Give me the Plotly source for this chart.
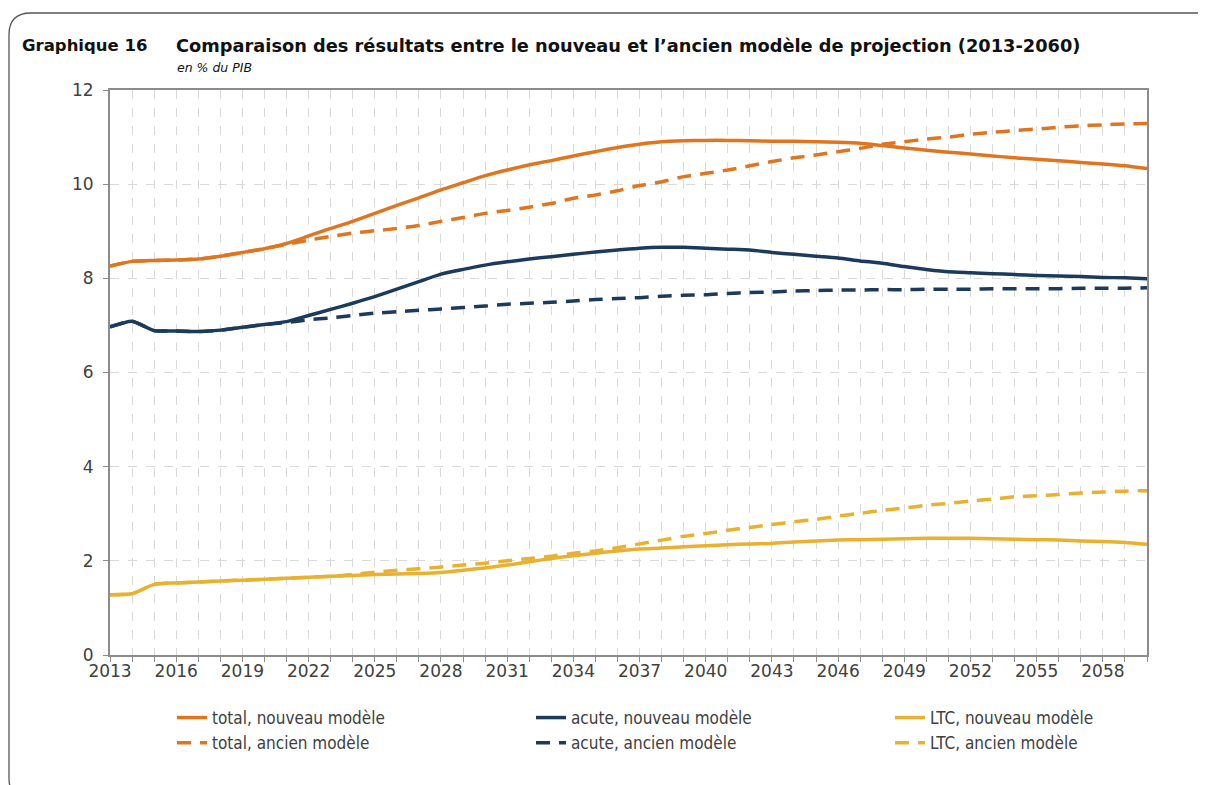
import plotly.graph_objects as go

years = list(range(2013, 2061))

total_new = [8.26, 8.36, 8.38, 8.39, 8.41, 8.47, 8.55, 8.63, 8.74, 8.90,
             9.06, 9.21, 9.38, 9.55, 9.71, 9.88, 10.03, 10.18, 10.30, 10.41,
             10.50, 10.60, 10.69, 10.78, 10.85, 10.90, 10.92, 10.93, 10.93, 10.92,
             10.91, 10.91, 10.90, 10.89, 10.87, 10.82, 10.77, 10.72, 10.68, 10.64,
             10.60, 10.56, 10.53, 10.50, 10.46, 10.43, 10.39, 10.33]
total_old = [8.26, 8.36, 8.38, 8.39, 8.41, 8.47, 8.55, 8.63, 8.72, 8.81,
             8.89, 8.96, 9.01, 9.06, 9.12, 9.21, 9.29, 9.38, 9.44, 9.51,
             9.59, 9.70, 9.77, 9.86, 9.97, 10.05, 10.16, 10.23, 10.30, 10.39,
             10.48, 10.56, 10.62, 10.69, 10.76, 10.85, 10.90, 10.96, 11.00, 11.06,
             11.10, 11.14, 11.17, 11.21, 11.24, 11.26, 11.28, 11.29]
acute_new = [6.97, 7.09, 6.89, 6.88, 6.87, 6.90, 6.96, 7.02, 7.08, 7.21,
             7.34, 7.47, 7.61, 7.77, 7.93, 8.09, 8.19, 8.28, 8.35, 8.41,
             8.46, 8.51, 8.56, 8.60, 8.64, 8.66, 8.66, 8.64, 8.62, 8.60,
             8.55, 8.51, 8.47, 8.43, 8.37, 8.32, 8.25, 8.19, 8.14, 8.12,
             8.10, 8.08, 8.06, 8.05, 8.04, 8.02, 8.01, 7.99]
acute_old = [6.97, 7.09, 6.89, 6.88, 6.87, 6.90, 6.96, 7.02, 7.06, 7.12,
             7.16, 7.21, 7.26, 7.29, 7.32, 7.35, 7.38, 7.41, 7.45, 7.47,
             7.49, 7.52, 7.55, 7.57, 7.59, 7.62, 7.64, 7.65, 7.68, 7.70,
             7.71, 7.73, 7.74, 7.75, 7.75, 7.76, 7.76, 7.77, 7.77, 7.77,
             7.78, 7.78, 7.78, 7.78, 7.79, 7.79, 7.79, 7.80]
ltc_new = [1.28, 1.30, 1.50, 1.53, 1.55, 1.57, 1.59, 1.61, 1.63, 1.65,
           1.67, 1.69, 1.71, 1.72, 1.73, 1.75, 1.80, 1.85, 1.91, 1.98,
           2.05, 2.11, 2.16, 2.21, 2.25, 2.27, 2.30, 2.32, 2.34, 2.36,
           2.37, 2.40, 2.42, 2.44, 2.45, 2.46, 2.47, 2.48, 2.48, 2.48,
           2.47, 2.46, 2.45, 2.44, 2.42, 2.41, 2.39, 2.35]
ltc_old = [1.28, 1.30, 1.50, 1.53, 1.55, 1.57, 1.59, 1.61, 1.63, 1.65,
           1.67, 1.71, 1.76, 1.80, 1.83, 1.87, 1.91, 1.95, 2.00, 2.05,
           2.10, 2.16, 2.21, 2.28, 2.36, 2.44, 2.52, 2.58, 2.65, 2.71,
           2.77, 2.83, 2.88, 2.95, 3.01, 3.07, 3.12, 3.18, 3.22, 3.27,
           3.31, 3.36, 3.38, 3.41, 3.44, 3.46, 3.48, 3.49]

ORANGE = '#E07520'
NAVY = '#1B3A5C'
GOLD = '#E8B130'
FONT = 'DejaVu Sans, sans-serif'
FONT_C = 'DejaVu Sans Condensed, DejaVu Sans, sans-serif'

# the page puts the figure 8px in from the top-left corner, so work in
# page pixels and convert
OFF = 8
W, H = 1206 - OFF, 785 - OFF
L, T = 110 - OFF, 90 - OFF
pw, ph = 1037, 565
R, B = W - L - pw, H - T - ph


def px(x):
    return (x - OFF - L) / pw


def py(y):
    return (T + ph - (y - OFF)) / ph


series = [
    # name, values, colour, dash, legend, rank
    ('total, ancien modèle', total_old, ORANGE, '14px,9px', 'legend', 2),
    ('acute, ancien modèle', acute_old, NAVY, '14px,9px', 'legend2', 2),
    ('LTC, ancien modèle', ltc_old, GOLD, '14px,9px', 'legend3', 2),
    ('total, nouveau modèle', total_new, ORANGE, 'solid', 'legend', 1),
    ('acute, nouveau modèle', acute_new, NAVY, 'solid', 'legend2', 1),
    ('LTC, nouveau modèle', ltc_new, GOLD, 'solid', 'legend3', 1),
]

fig = go.Figure()
for name, vals, col, dash, leg, rank in series:
    fig.add_trace(go.Scatter(
        x=years, y=vals, name=name, mode='lines',
        line=dict(color=col, width=3.5, dash=dash, shape='spline', smoothing=0.5),
        legend=leg, legendrank=rank,
    ))

grid = dict(gridcolor='#D9D9D9', griddash='dash', gridwidth=1)


def legend_at(xpix):
    return dict(orientation='v', x=px(xpix), xanchor='left', y=py(700), yanchor='top',
                bgcolor='rgba(0,0,0,0)', traceorder='normal',
                font=dict(family=FONT_C, size=17, color='#404040'))


fig.update_layout(
    width=W, height=H,
    margin=dict(l=L, r=R, t=T, b=B, autoexpand=False),
    plot_bgcolor='white', paper_bgcolor='white',
    font=dict(family=FONT, size=17, color='#404040'),
    xaxis=dict(
        range=[2013, 2060], tick0=2013, dtick=3, ticks='outside', ticklen=5,
        tickcolor='#8C8C8C', showline=True, linecolor='#8C8C8C', linewidth=2,
        mirror=True, showgrid=True, zeroline=False, ticklabelstandoff=-5,
        minor=dict(dtick=1, tick0=2013, ticks='outside', ticklen=5,
                   tickcolor='#8C8C8C', showgrid=True, **grid),
        **grid,
    ),
    yaxis=dict(
        range=[0, 12], dtick=2, ticks='outside', ticklen=5, tickcolor='#8C8C8C',
        showline=True, linecolor='#8C8C8C', linewidth=2, mirror=True,
        zeroline=False, showgrid=True, ticklabelstandoff=6, **grid,
    ),
    legend=legend_at(172),
    legend2=legend_at(531),
    legend3=legend_at(890),
)

# titles
fig.add_annotation(x=px(20), y=py(45), xref='paper', yref='paper', xanchor='left',
                   yanchor='middle', showarrow=False, text='<b>Graphique 16</b>',
                   font=dict(family=FONT, size=16.5, color='#111111'))
fig.add_annotation(x=px(174), y=py(45), xref='paper', yref='paper', xanchor='left',
                   yanchor='middle', showarrow=False,
                   text='<b>Comparaison des résultats entre le nouveau et l’ancien modèle de projection (2013-2060)</b>',
                   font=dict(family=FONT, size=17.8, color='#111111'))
fig.add_annotation(x=px(175), y=py(67), xref='paper', yref='paper', xanchor='left',
                   yanchor='middle', showarrow=False, text='<i>en % du PIB</i>',
                   font=dict(family=FONT, size=12.5, color='#111111'))

# rounded frame around the whole chart
r = 22
x0, y0, x1, y1 = 9, 13, 1220, 800
path = (f'M {px(x1)},{py(y0)} L {px(x0 + r)},{py(y0)} '
        f'Q {px(x0)},{py(y0)} {px(x0)},{py(y0 + r)} '
        f'L {px(x0)},{py(y1 - r)} Q {px(x0)},{py(y1)} {px(x0 + r)},{py(y1)}')
fig.add_shape(type='path', path=path, xref='paper', yref='paper',
              line=dict(color='#555555', width=1.3))

fig.write_html('out.html')
